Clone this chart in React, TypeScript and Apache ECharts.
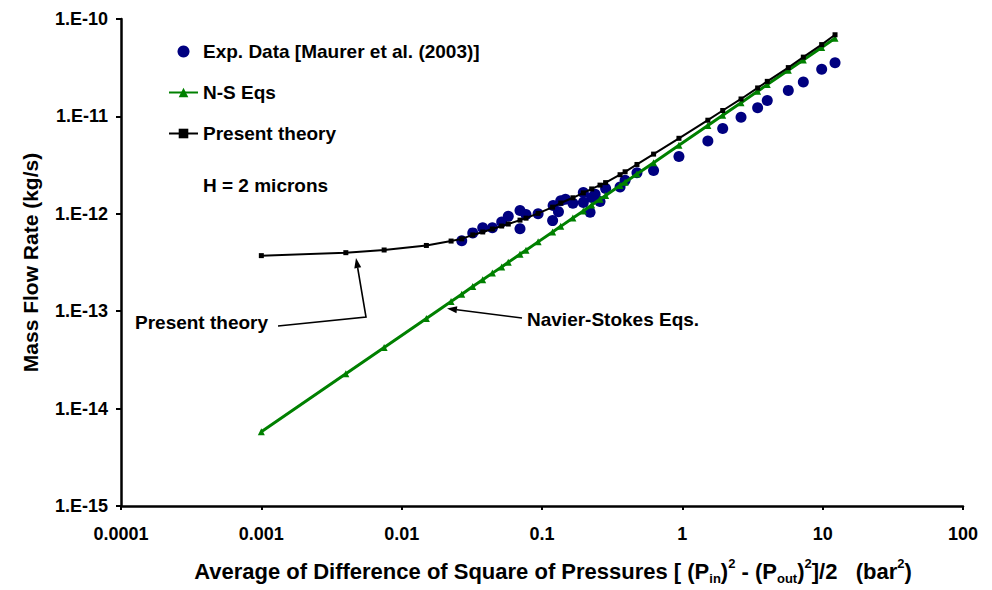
import React, { useEffect, useRef } from "react";
import * as echarts from "echarts";

const xTickLabels = ["0.0001", "0.001", "0.01", "0.1", "1", "10", "100"];
const yTickLabels = ["1.E-15", "1.E-14", "1.E-13", "1.E-12", "1.E-11", "1.E-10"];

const expX = [0.0268, 0.0321, 0.0378, 0.0443, 0.0516, 0.0575, 0.0697, 0.0697, 0.0769, 0.0938, 0.119, 0.12, 0.131, 0.136, 0.147, 0.166, 0.197, 0.197, 0.22, 0.226, 0.239, 0.259, 0.284, 0.36, 0.391, 0.475, 0.624, 0.946, 1.52, 1.94, 2.62, 3.44, 4.03, 5.69, 7.28, 9.84, 12.25];
const expY = [5.28e-13, 6.37e-13, 7.2e-13, 7.2e-13, 8.22e-13, 9.46e-13, 1.08e-12, 7.03e-13, 9.84e-13, 1.0e-12, 8.51e-13, 1.22e-12, 1.05e-12, 1.36e-12, 1.41e-12, 1.28e-12, 1.65e-12, 1.31e-12, 1.04e-12, 1.47e-12, 1.59e-12, 1.34e-12, 1.82e-12, 1.88e-12, 2.21e-12, 2.64e-12, 2.78e-12, 3.87e-12, 5.6e-12, 7.53e-12, 9.79e-12, 1.23e-11, 1.46e-11, 1.85e-11, 2.26e-11, 3.05e-11, 3.56e-11];

const modelX = [0.001, 0.004, 0.0075, 0.015, 0.0225, 0.0268, 0.0321, 0.0378, 0.0443, 0.0516, 0.0575, 0.0697, 0.0769, 0.0938, 0.119, 0.136, 0.166, 0.197, 0.226, 0.259, 0.284, 0.36, 0.391, 0.475, 0.624, 0.946, 1.52, 1.94, 2.62, 3.44, 4.03, 5.69, 7.28, 9.84, 12.25];
const theoryY = [3.72e-13, 3.99e-13, 4.25e-13, 4.73e-13, 5.25e-13, 5.53e-13, 6.07e-13, 6.51e-13, 6.98e-13, 7.49e-13, 7.85e-13, 8.61e-13, 9.02e-13, 1.01e-12, 1.17e-12, 1.29e-12, 1.46e-12, 1.64e-12, 1.8e-12, 1.97e-12, 2.09e-12, 2.52e-12, 2.7e-12, 3.21e-12, 4.1e-12, 5.96e-12, 9.14e-12, 1.15e-11, 1.51e-11, 1.96e-11, 2.29e-11, 3.17e-11, 4.06e-11, 5.46e-11, 6.89e-11];
const nsY = [5.8e-15, 2.28e-14, 4.24e-14, 8.42e-14, 1.26e-13, 1.49e-13, 1.79e-13, 2.1e-13, 2.46e-13, 2.85e-13, 3.18e-13, 3.84e-13, 4.23e-13, 5.15e-13, 6.52e-13, 7.43e-13, 9.05e-13, 1.07e-12, 1.23e-12, 1.41e-12, 1.54e-12, 1.95e-12, 2.11e-12, 2.56e-12, 3.35e-12, 5.05e-12, 8.07e-12, 1.03e-11, 1.38e-11, 1.81e-11, 2.12e-11, 2.97e-11, 3.8e-11, 5.11e-11, 6.34e-11];

const FONT = "'Liberation Sans', Arial, Helvetica, sans-serif";

export default function App() {
  const ref = useRef<HTMLDivElement>(null);
  useEffect(() => {
    if (!ref.current) return;
    const chart = echarts.init(ref.current, undefined, { renderer: "svg" });
    const bold = { fontFamily: FONT, fontWeight: "bold" as const, color: "#000" };
    const option: any = {
      animation: false,
      backgroundColor: "#fff",
      grid: { left: 121, right: 29, top: 19, bottom: 77, containLabel: false },
      legend: {
        orient: "vertical",
        left: 163,
        top: 37,
        itemWidth: 29,
        itemHeight: 12,
        itemGap: 22,
        textStyle: { ...bold, fontSize: 19 },
        data: ["Exp. Data [Maurer et al. (2003)]", "N-S Eqs", "Present theory"],
      },
      xAxis: {
        type: "log",
        logBase: 10,
        min: 0.0001,
        max: 100,
        name:
          "{n|Average of Difference of Square of Pressures [ (P}{sub|in}{n|)}{sup|2}{n| - (P}{sub|out}{n|)}{sup|2}{n|]/2   (bar}{sup|2}{n|)}",
        nameLocation: "middle",
        nameGap: 51,
        nameTextStyle: {
          padding: [0, 0, 0, 22],
          rich: {
            n: { ...bold, fontSize: 22, lineHeight: 28, verticalAlign: "middle" },
            sub: { ...bold, fontSize: 13, lineHeight: 28, verticalAlign: "bottom" },
            sup: { ...bold, fontSize: 13, lineHeight: 16, verticalAlign: "top" },
          },
        },
        axisLine: { lineStyle: { color: "#000", width: 2.5 } },
        axisTick: { show: true, length: 4, lineStyle: { color: "#000", width: 2 } },
        axisLabel: {
          ...bold,
          fontSize: 18,
          margin: 19,
          formatter: (v: number) => xTickLabels[Math.round(Math.log10(v)) + 4] ?? "",
        },
        splitLine: { show: false },
        minorTick: { show: false },
      },
      yAxis: {
        type: "log",
        logBase: 10,
        min: 1e-15,
        max: 1e-10,
        name: "Mass Flow Rate (kg/s)",
        nameLocation: "middle",
        nameGap: 80,
        nameRotate: 90,
        nameTextStyle: { ...bold, fontSize: 21 },
        axisLine: { lineStyle: { color: "#000", width: 2.5 } },
        axisTick: { show: true, length: 5, lineStyle: { color: "#000", width: 2 } },
        axisLabel: {
          ...bold,
          fontSize: 18,
          margin: 13,
          formatter: (v: number) => yTickLabels[Math.round(Math.log10(v)) + 15] ?? "",
        },
        splitLine: { show: false },
      },
      series: [
        {
          name: "Exp. Data [Maurer et al. (2003)]",
          type: "scatter",
          symbol: "circle",
          symbolSize: 11,
          itemStyle: { color: "#000080", opacity: 1 },
          data: expX.map((x, i) => [x, expY[i]]),
          z: 2,
        },
        {
          name: "N-S Eqs",
          type: "line",
          symbol: "triangle",
          symbolSize: 7,
          lineStyle: { color: "#008000", width: 3 },
          itemStyle: { color: "#008000" },
          data: modelX.map((x, i) => [x, nsY[i]]),
          z: 3,
        },
        {
          name: "Present theory",
          type: "line",
          symbol: "rect",
          symbolSize: 5,
          lineStyle: { color: "#000", width: 2 },
          itemStyle: { color: "#000" },
          data: modelX.map((x, i) => [x, theoryY[i]]),
          z: 4,
        },
      ],
      graphic: [
        { type: "text", left: 203, top: 176, style: { text: "H = 2 microns", font: `bold 19px ${FONT}`, fill: "#000" } },
        { type: "text", left: 135, top: 313, style: { text: "Present theory", font: `bold 19px ${FONT}`, fill: "#000" } },
        { type: "polyline", shape: { points: [[278, 326], [366, 317], [357.7, 268]] }, style: { stroke: "#000", lineWidth: 1.6, fill: "none" } },
        { type: "polygon", shape: { points: [[356, 258], [361.2, 267.3], [354.3, 268.5]] }, style: { fill: "#000" } },
        { type: "text", left: 527, top: 310, style: { text: "Navier-Stokes Eqs.", font: `bold 19px ${FONT}`, fill: "#000" } },
        { type: "polyline", shape: { points: [[522, 318], [456.9, 309.8]] }, style: { stroke: "#000", lineWidth: 1.6, fill: "none" } },
        { type: "polygon", shape: { points: [[447, 308.5], [457.3, 306.3], [456.5, 313.3]] }, style: { fill: "#000" } },
      ],
    };
    chart.setOption(option);
    return () => chart.dispose();
  }, []);
  return (
    <div
      ref={ref}
      style={{ position: "absolute", left: 0, top: 0, width: 992, height: 590, background: "#fff" }}
    />
  );
}
